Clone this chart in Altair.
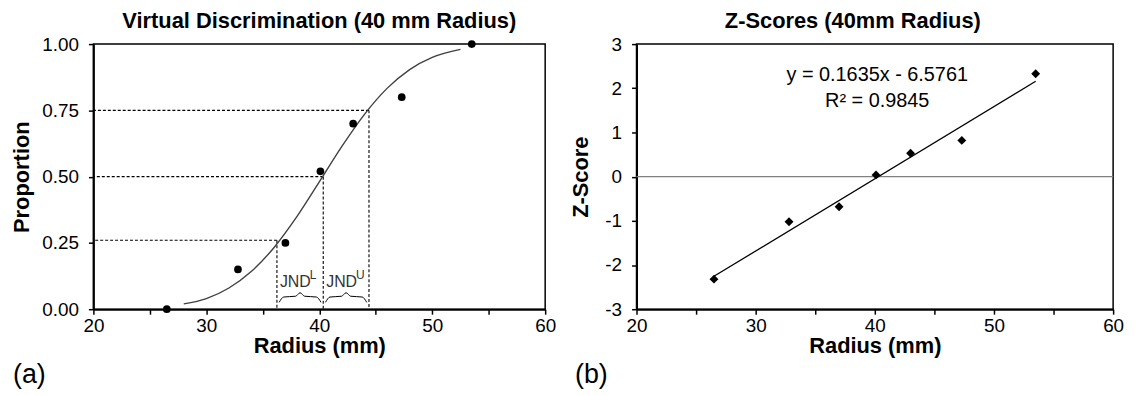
import altair as alt
import pandas as pd

# ---- data ----
radius = [26.5, 32.8, 37.0, 40.1, 43.0, 47.3, 53.5]
proportion = [0.0, 0.15, 0.25, 0.52, 0.70, 0.80, 1.00]
zscore = [-2.32, -1.02, -0.68, 0.04, 0.53, 0.82, 2.33]

curve_x = [28, 30, 32, 34, 36, 38, 40, 42, 44, 46, 48, 50, 52.5]
curve_y = [0.02, 0.04, 0.08, 0.143, 0.233, 0.348, 0.48, 0.614, 0.735, 0.833, 0.904, 0.95, 0.98]

jnd_levels = [0.26, 0.50, 0.75]
jnd_cross = [36.25, 40.35, 44.4]
jnd_names = ["L", "U"]

x_ticks = [20, 25, 30, 35, 40, 45, 50, 55, 60]
p_ticks = [0.0, 0.25, 0.50, 0.75, 1.00]
z_ticks = [-3, -2, -1, 0, 1, 2, 3]

eq_lines = ["y = 0.1635x - 6.5761", "R\u00b2 = 0.9845"]
eq_x = [40.2, 40.2]
eq_y = [2.30, 1.72]

FONT = "Liberation Sans"
W1, W2, H = 455, 480, 267

# ---- tables ----
pts = pd.DataFrame({"radius": radius, "proportion": proportion, "zscore": zscore})
curve = pd.DataFrame({"radius": curve_x, "proportion": curve_y})
guides = pd.DataFrame({"level": jnd_levels, "cross": jnd_cross})

brace_rows = []
for i, name in enumerate(jnd_names):
    a, b = jnd_cross[i] + 0.2, jnd_cross[i + 1] - 0.2
    m = (a + b) / 2
    shape = [(a, 0.026), (a + 0.4, 0.046), (m - 0.4, 0.049), (m, 0.062),
             (m + 0.4, 0.049), (b - 0.4, 0.046), (b, 0.026)]
    for k, (bx, by) in enumerate(shape):
        brace_rows.append({"g": name, "k": k, "bx": bx, "by": by})
braces = pd.DataFrame(brace_rows)
jnd_lab = pd.DataFrame({"x": jnd_cross[:2], "name": jnd_names, "main": ["JND", "JND"], "y": [0.103, 0.103]})

xscale = alt.Scale(domain=[20, 60], nice=False, zero=False)
pscale = alt.Scale(domain=[0, 1], nice=False)
zscale = alt.Scale(domain=[-3, 3], nice=False)

x_axis = alt.Axis(values=x_ticks, labelExpr="datum.value % 10 == 0 ? datum.label : ''",
                  title="Radius (mm)", labelFlush=False, labelPadding=2, titlePadding=1)
p_axis = alt.Axis(values=p_ticks, format=".2f", title="Proportion", titlePadding=8)
z_axis = alt.Axis(values=z_ticks, labelExpr="'' + datum.value", title="Z-Score", titlePadding=12)


def X(f):
    return alt.X(f, scale=xscale, axis=x_axis)


def P(f):
    return alt.Y(f, scale=pscale, axis=p_axis)


def Z(f):
    return alt.Y(f, scale=zscale, axis=z_axis)


# ---- left panel ----
l_h = alt.Chart(guides).mark_rule(color="black", strokeWidth=1.1, strokeDash=[3, 2]).encode(
    x=X("cross:Q"), x2=alt.datum(20), y=P("level:Q"))
l_v = alt.Chart(guides).mark_rule(color="black", strokeWidth=1.1, strokeDash=[3, 2]).encode(
    x=X("cross:Q"), y=P("level:Q"), y2=alt.datum(0))
l_curve = alt.Chart(curve).mark_line(color="#404040", strokeWidth=1.4, interpolate="monotone").encode(
    x=X("radius:Q"), y=P("proportion:Q"))
l_brace = alt.Chart(braces).mark_line(color="black", strokeWidth=1, interpolate="monotone").encode(
    x=X("bx:Q"), y=P("by:Q"), detail="g:N", order="k:Q")
l_jnd = alt.Chart(jnd_lab).mark_text(align="left", baseline="middle", fontSize=16, dx=3,
                                       color="#333333", font=FONT).encode(
    x=X("x:Q"), y=P("y:Q"), text="main:N")
l_sup = alt.Chart(jnd_lab).mark_text(align="left", baseline="middle", fontSize=12, dx=33, dy=-7,
                                       color="#333333", font=FONT).encode(
    x=X("x:Q"), y=P("y:Q"), text="name:N")
l_points = alt.Chart(pts).mark_circle(size=60, color="black", opacity=1).encode(
    x=X("radius:Q"), y=P("proportion:Q"))
l_tag = alt.Chart(pd.DataFrame({"t": ["(a)"]})).mark_text(
    align="left", baseline="middle", fontSize=27, font=FONT, color="black").encode(
    x=alt.value(-81), y=alt.value(333), text="t:N")

left = alt.layer(l_h, l_v, l_curve, l_brace, l_jnd, l_sup, l_points, l_tag).properties(
    width=W1, height=H,
    title=alt.TitleParams("Virtual Discrimination (40 mm Radius)", fontSize=22, fontWeight="bold",
                          font=FONT, frame="group", offset=2, color="black"))

# ---- right panel ----
r_zero = alt.Chart(pd.DataFrame({"z": [0]})).mark_rule(color="#808080", strokeWidth=1.2).encode(
    y=Z("z:Q"))
r_fit = alt.Chart(pts).transform_regression("radius", "zscore").mark_line(
    color="black", strokeWidth=1.3).encode(x=X("radius:Q"), y=Z("zscore:Q"))
r_eq = alt.Chart(pd.DataFrame({"t": eq_lines, "x": eq_x, "y": eq_y})).mark_text(
    align="center", baseline="middle", fontSize=20, font=FONT, color="black").encode(
    x=X("x:Q"), y=Z("y:Q"), text="t:N")
r_points = alt.Chart(pts).mark_point(shape="diamond", filled=True, size=80, color="black", opacity=1).encode(
    x=X("radius:Q"), y=Z("zscore:Q"))
r_tag = alt.Chart(pd.DataFrame({"t": ["(b)"]})).mark_text(
    align="left", baseline="middle", fontSize=27, font=FONT, color="black").encode(
    x=alt.value(-62), y=alt.value(333), text="t:N")

right = alt.layer(r_zero, r_fit, r_eq, r_points, r_tag).properties(
    width=W2, height=H,
    title=alt.TitleParams("Z-Scores (40mm Radius)", fontSize=22, fontWeight="bold",
                          font=FONT, frame="bounds", offset=2, dx=6, color="black"))

chart = alt.hconcat(left, right, spacing=12).properties(
    padding={"left": 2, "top": 0, "right": 5, "bottom": 0}
).configure(font=FONT).configure_view(
    stroke="black", strokeWidth=1.5
).configure_axis(
    labelFont=FONT, titleFont=FONT, labelFontSize=19, titleFontSize=22, titleFontWeight="bold",
    labelColor="black", titleColor="black", domainColor="black", tickColor="black",
    domainWidth=2, tickWidth=1.5, tickSize=5, grid=False, labelPadding=10
).configure_axisX(labelPadding=2, titlePadding=1)

chart.save("out.html", embed_options={"renderer": "svg", "actions": False})
